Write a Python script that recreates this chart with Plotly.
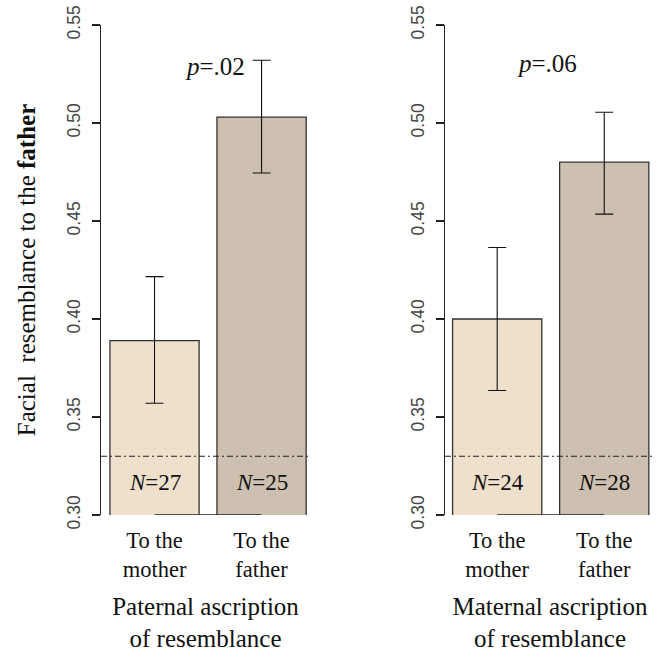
import plotly.graph_objects as go

# ---- data ----
categories = ["To the<br>mother", "To the<br>father"]
bar_pos = [0.7, 1.9]
paternal_mean = [0.389, 0.503]
paternal_upper = [0.4216, 0.532]
paternal_lower = [0.357, 0.4745]
maternal_mean = [0.400, 0.480]
maternal_upper = [0.4365, 0.5055]
maternal_lower = [0.3635, 0.4535]
paternal_n = ["27", "25"]
maternal_n = ["24", "28"]
p_values = [".02", ".06"]
chance_level = 0.33
y_ticks = [0.30, 0.35, 0.40, 0.45, 0.50, 0.55]
panel_titles = ["Paternal ascription<br>of resemblance", "Maternal ascription<br>of resemblance"]

colors = ["#EFE0CC", "#CEC0B0"]
SERIF = "Liberation Serif, Times New Roman, serif"
SANS = "Liberation Sans, Arial, sans-serif"
W, H = 657, 652

fig = go.Figure()

panels = [
    (paternal_mean, paternal_upper, paternal_lower, paternal_n, "x", "y"),
    (maternal_mean, maternal_upper, maternal_lower, maternal_n, "x2", "y2"),
]
for mean, up, lo, ns, xa, ya in panels:
    fig.add_trace(go.Bar(
        x=bar_pos, y=mean, width=1.0, xaxis=xa, yaxis=ya,
        marker=dict(color=colors, line=dict(color="#333333", width=1.3)),
        error_y=dict(type="data", symmetric=False,
                     array=[u - m for u, m in zip(up, mean)],
                     arrayminus=[m - l for m, l in zip(mean, lo)],
                     color="#111111", thickness=1.1, width=9),
        showlegend=False, hoverinfo="skip",
    ))
    # R-style x axis line spanning the bar centres
    fig.add_trace(go.Scatter(
        x=bar_pos, y=[y_ticks[0]] * 2, mode="lines", xaxis=xa, yaxis=ya,
        line=dict(color="#222222", width=1.3), cliponaxis=False,
        showlegend=False, hoverinfo="skip",
    ))
    fig.add_shape(type="line", xref=f"{xa} domain", yref=ya, x0=0, x1=1,
                  y0=chance_level, y1=chance_level,
                  line=dict(color="#222222", width=1.1, dash="6px,3px,2px,3px"))
    for xp, n in zip(bar_pos, ns):
        fig.add_annotation(x=xp, y=0.3168, xref=xa, yref=ya, text=f"<i>N</i>={n}",
                           showarrow=False, font=dict(family=SERIF, size=23, color="#111"))

fig.add_annotation(x=1.378, y=0.529, xref="x", yref="y", text=f"<i>p</i>={p_values[0]}",
                   showarrow=False, font=dict(family=SERIF, size=25, color="#111"))
fig.add_annotation(x=1.258, y=0.5306, xref="x2", yref="y2", text=f"<i>p</i>={p_values[1]}",
                   showarrow=False, font=dict(family=SERIF, size=25, color="#111"))

ydom = [(H - 515) / H, (H - 25) / H]
xcommon = dict(showline=False, zeroline=False, showgrid=False, ticks="",
               tickvals=bar_pos, ticktext=categories, automargin=False,
               tickfont=dict(family=SERIF, size=22.5, color="#111"),
               ticklabelstandoff=9,
               title_font=dict(family=SERIF, size=25, color="#111"), title_standoff=17)
ycommon = dict(range=[0.30, 0.55], showline=True, linecolor="#222222", linewidth=1.3,
               ticks="outside", ticklen=8, tickcolor="#222222", tickwidth=1.3,
               tickvals=y_ticks, ticktext=[f"{v:.2f}" for v in y_ticks], automargin=False,
               tickangle=-90, tickfont=dict(family=SANS, size=17.5, color="#444444"),
               ticklabeloverflow="allow",
               showgrid=False, zeroline=False, ticklabelstandoff=5)

fig.update_layout(
    width=W, height=H, margin=dict(l=0, r=0, t=0, b=0, autoexpand=False),
    plot_bgcolor="white", paper_bgcolor="white", bargap=0,
    xaxis=dict(domain=[101 / W, 310 / W], range=[0.1, 2.443], anchor="y",
               title_text=panel_titles[0], **xcommon),
    xaxis2=dict(domain=[445 / W, 655 / W], range=[0.115, 2.469], anchor="y2",
                title_text=panel_titles[1], **xcommon),
    yaxis=dict(domain=ydom, anchor="x",
               title_text="Facial\u00a0 resemblance to the <b>father</b>",
               title_font=dict(family=SERIF, size=25, color="#111"), title_standoff=21,
               **ycommon),
    yaxis2=dict(domain=ydom, anchor="x2", **ycommon),
)

fig.write_html("out.html", config={"displayModeBar": False, "staticPlot": True},
               post_script="document.body.style.margin='0';document.body.style.overflow='hidden';")
